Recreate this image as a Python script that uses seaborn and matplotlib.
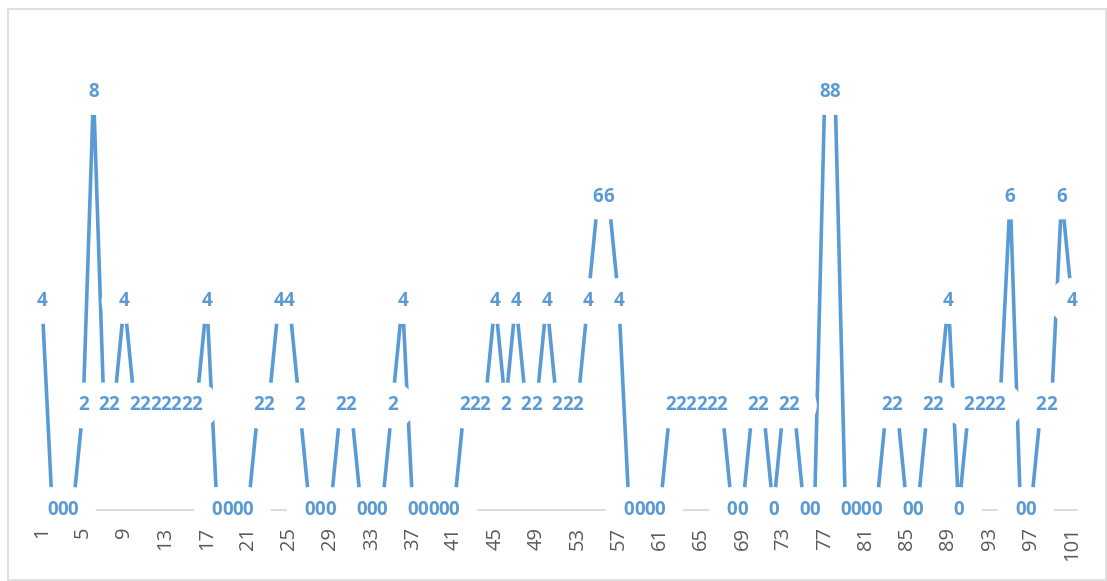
import matplotlib
matplotlib.use("Agg")
import matplotlib.pyplot as plt
from matplotlib.patches import Rectangle
import seaborn as sns
import pandas as pd

# Category numbers 1..101 and the value at each one
categories = list(range(1, 102))
values = [
    4, 0, 0, 0, 2, 8, 2, 2, 4, 2,
    2, 2, 2, 2, 2, 2, 4, 0, 0, 0,
    0, 2, 2, 4, 4, 2, 0, 0, 0, 2,
    2, 0, 0, 0, 2, 4, 0, 0, 0, 0,
    0, 2, 2, 2, 4, 2, 4, 2, 2, 4,
    2, 2, 2, 4, 6, 6, 4, 0, 0, 0,
    0, 2, 2, 2, 2, 2, 2, 0, 0, 2,
    2, 0, 2, 2, 0, 0, 8, 8, 0, 0,
    0, 0, 2, 2, 0, 0, 2, 2, 4, 0,
    2, 2, 2, 2, 6, 0, 0, 2, 2, 6,
    4,
]
tick_labels = [str(c) for c in range(1, 102, 4)]

df = pd.DataFrame({"category": categories, "value": values})

sns.set_theme(style="white")
plt.rcParams["font.family"] = ["Open Sans", "DejaVu Sans"]

W, H = 1107, 581
fig = plt.figure(figsize=(W / 100, H / 100), dpi=100)
fig.patch.set_facecolor("white")

# plot area in pixels: x from 36.85 to 1077.15, y=0 at 510 px from top, 1 unit = 52.25 px
left_px, right_px = 36.85, 1077.15
zero_px = 510.0
unit_px = 52.25
ymax = 9
ax = fig.add_axes([left_px / W, (H - zero_px) / H,
                   (right_px - left_px) / W, ymax * unit_px / H])

blue = "#5B9BD5"

# category axis line, kept underneath the label discs
ax.axhline(0, color="#D9D9D9", linewidth=1.3, zorder=2.4, clip_on=False)

sns.lineplot(data=df, x="category", y="value", ax=ax, color=blue,
             linewidth=2.6, zorder=2.6, solid_joinstyle="round",
             solid_capstyle="round")

# white discs behind each value label, cut off just below the axis line
sns.scatterplot(data=df, x="category", y="value", ax=ax, color="white",
                s=1090, edgecolor="none", linewidth=0, zorder=2.7,
                legend=False)
discs = ax.collections[-1]
clip_box = Rectangle((-1.0, -0.06), 104.0, 20.0, transform=ax.transData,
                     fill=False, visible=False)
ax.add_patch(clip_box)
discs.set_clip_path(clip_box)

for c, v in zip(categories, values):
    ax.text(c, v, str(v), ha="center", va="center", color=blue,
            fontsize=13.5, fontweight="bold", zorder=3, clip_on=False)

ax.set_xlim(0.5, 101.5)
ax.set_ylim(0, ymax)
ax.set_xticks(list(range(1, 102, 4)))
ax.set_xticklabels(tick_labels, rotation=90, fontsize=14.5, color="#595959")
ax.tick_params(axis="x", length=0, pad=12)
ax.set_yticks([])
ax.set_xlabel("")
ax.set_ylabel("")
ax.set_facecolor("none")

for side in ("left", "right", "top", "bottom"):
    ax.spines[side].set_visible(False)

# chart border
fig.patches.append(Rectangle((7.5 / W, 1.0 / H), (1105.5 - 7.5) / W, (580 - 8.5) / H,
                             transform=fig.transFigure, fill=False,
                             edgecolor="#D9D9D9", linewidth=1.2))

fig.savefig("out.png", dpi=100)
